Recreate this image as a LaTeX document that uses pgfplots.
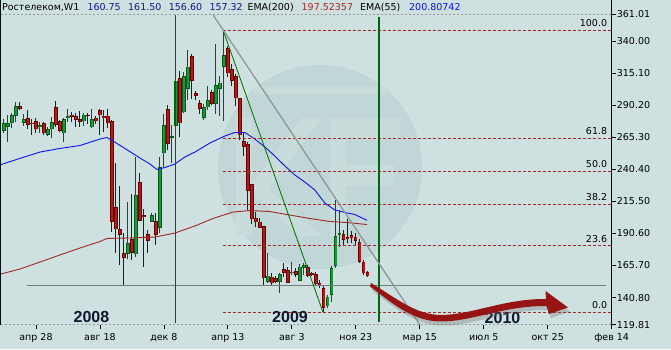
\documentclass[border=0pt]{standalone}
\usepackage{pgfplots}
\pgfplotsset{compat=1.18}
\usepackage{pgfplotstable}
\usepackage{fontspec}
\setmainfont{DejaVu Sans}
\newfontfamily\yearfont{Liberation Sans}
\definecolor{bg}{RGB}{206,224,223}
\definecolor{logoc}{RGB}{193,214,214}
\definecolor{logol}{RGB}{201,220,220}
\definecolor{gout}{RGB}{0,95,20}
\definecolor{gfill}{RGB}{34,145,64}
\definecolor{rout}{RGB}{105,0,0}
\definecolor{rfill}{RGB}{175,28,28}
\definecolor{fibc}{RGB}{165,40,40}
\definecolor{emared}{RGB}{160,40,40}
\definecolor{emablue}{RGB}{10,20,240}
\definecolor{trgreen}{RGB}{0,110,0}
\definecolor{trgray}{RGB}{140,152,152}
\definecolor{hgray}{RGB}{115,125,125}
\definecolor{vgreen}{RGB}{0,100,20}
\definecolor{navy}{RGB}{20,20,140}
\definecolor{arrowc}{RGB}{150,20,20}
\definecolor{yearc}{RGB}{16,24,48}

% weekly candles: x = weeks from 28 Apr 2008
\pgfplotstableread{
x o h l c
-8 270.4 279.2 268.8 276.1
-7 273.5 282.6 261.8 276.1
-6 276.1 283.9 272.7 282.3
-5 282.0 292.4 277.4 289.6
-3 276.6 283.1 274.3 279.2
1 273.5 277.4 268.8 274.8
3 267.0 273.5 266.3 271.7
4 271.5 281.0 264.9 277.1
7 268.4 280.0 261.4 279.2
8 280.0 287.0 277.4 281.8
12 277.7 284.4 274.0 282.8
14 273.0 287.0 272.7 279.2
23 174.6 214.8 170.5 182.9
25 174.4 249.7 172.5 220.4
29 199.7 206.2 199.5 204.7
31 195.1 249.6 190.7 242.0
32 252.8 283.0 242.2 274.8
34 264.9 274.8 245.3 265.6
35 274.4 313.6 270.9 309.2
37 284.7 316.0 284.1 312.9
38 302.8 333.1 294.2 320.1
42 280.2 291.1 278.7 288.6
43 288.6 305.3 286.5 294.2
45 291.1 337.7 283.4 305.9
46 302.8 312.9 282.0 307.7
47 320.1 348.3 277.7 328.9
58 153.1 175.2 151.9 157.8
61 153.1 160.1 144.1 159.1
64 159.6 168.6 158.3 160.9
66 153.9 166.6 153.6 164.8
67 163.8 167.4 158.3 166.1
73 133.9 142.8 132.7 141.6
74 142.8 165.3 137.6 163.5
75 165.3 216.6 163.8 188.6
76 189.1 208.8 180.3 190.7
}\greentab

\pgfplotstableread{
x o h l c
-4 289.6 292.4 286.5 287.5
-2 280.2 286.2 271.7 274.8
-1 276.6 279.5 267.0 275.4
0 277.7 280.2 268.8 271.5
2 276.4 276.9 266.8 268.4
5 288.8 293.4 273.5 274.8
6 277.9 278.9 269.1 270.4
9 282.8 284.9 277.1 281.3
10 281.8 283.9 273.0 278.7
11 279.5 285.5 273.5 277.1
13 282.8 284.1 275.4 281.8
15 280.5 281.6 275.8 277.7
16 286.5 287.0 267.3 282.3
17 282.0 286.5 269.1 280.0
18 282.0 287.0 272.2 276.1
19 277.9 278.5 191.9 199.7
20 210.9 245.1 175.2 193.8
21 194.0 227.4 165.9 189.6
22 175.2 191.2 150.6 171.8
24 186.0 221.2 170.0 175.6
26 230.5 237.8 200.0 200.5
27 204.7 209.8 164.8 203.6
28 189.9 193.3 175.2 185.0
30 200.3 206.7 181.9 189.6
33 287.2 290.3 255.4 260.4
36 311.3 316.5 265.3 276.1
39 328.4 330.0 295.0 309.2
40 299.4 301.4 294.2 297.6
41 291.7 294.2 283.4 287.5
44 300.4 302.0 290.1 291.1
48 334.6 336.4 311.9 315.0
49 318.1 322.2 305.3 309.2
50 312.9 314.4 289.6 295.4
51 295.5 295.8 262.8 266.7
52 262.2 269.1 250.7 258.0
53 259.8 261.8 208.8 223.9
54 228.8 229.0 197.9 201.6
55 202.4 207.5 195.8 199.2
56 199.7 202.4 194.9 195.1
57 196.4 196.6 150.6 155.8
59 157.0 159.6 150.6 151.9
60 155.8 157.5 152.1 153.1
62 162.7 167.4 157.0 160.1
63 162.2 164.8 151.9 152.3
65 161.4 163.5 157.0 158.3
68 164.3 166.1 156.8 157.9
69 160.1 161.0 157.2 158.3
70 159.1 160.9 150.0 151.1
71 152.2 154.2 148.6 150.1
72 148.2 149.8 129.2 132.7
77 190.2 193.3 180.8 185.5
78 187.6 201.6 182.9 186.0
79 189.4 192.7 182.9 186.8
80 188.1 190.7 181.6 185.0
81 184.2 186.0 167.9 168.6
82 168.6 170.0 158.3 159.6
83 160.75 161.50 156.60 157.32
}\redtab

\pgfplotsset{candle/.style={only marks, mark=*, mark size=0pt, mark options={draw=none,fill=none}, forget plot,
  error bars/.cd, y dir=plus, y explicit, error mark=none}}

\begin{document}
\begin{tikzpicture}[font=\fontsize{9.5}{11}\selectfont]
\fill[bg] (0,0) rectangle (671pt,349pt);
\useasboundingbox (0,0) rectangle (671pt,349pt);
% watermark logo
\begin{scope}[x=1pt,y=-1pt,shift={(0pt,349pt)}]
\fill[logoc] (320,167) circle[radius=102pt];
\fill[logol] (253,87) rectangle (388,95);
\fill[logol] (236,118) rectangle (252,236);
\fill[logol] (252,184) -- (302,118) -- (322,118) -- (262,198) -- cycle;
\fill[logol] (258,180) -- (322,236) -- (300,236) -- (252,194) -- cycle;
\fill[logol] (330,118) rectangle (346,236);
\fill[logol] (346,118) rectangle (400,140);
\fill[logol] (346,165) rectangle (394,186);
% header
\node[anchor=base west,inner sep=0pt] at (2,10.7) {Ростелеком,W1};
\node[anchor=base west,inner sep=0pt,text=navy] at (87.3,10.7) {160.75};
\node[anchor=base west,inner sep=0pt,text=navy] at (128,10.7) {161.50};
\node[anchor=base west,inner sep=0pt,text=navy] at (168.7,10.7) {156.60};
\node[anchor=base west,inner sep=0pt,text=navy] at (209.3,10.7) {157.32};
\node[anchor=base west,inner sep=0pt] at (247.3,10.7) {EMA(200)};
\node[anchor=base west,inner sep=0pt,text=fibc] at (301.5,10.7) {197.52357};
\node[anchor=base west,inner sep=0pt] at (360,10.7) {EMA(55)};
\node[anchor=base west,inner sep=0pt,text=emablue] at (409,10.7) {200.80742};
\end{scope}

\begin{axis}[
  at={(1pt,24.4pt)}, anchor=south west,
  scale only axis, width=610.7pt, height=310.6pt,
  xmin=-8.75, xmax=144, ymin=119.81, ymax=361.01,
  axis line style={draw=none},
  xtick={0,16,32,48,64,80,96,112,128,144},
  xticklabels={апр 28,авг 18,дек 8,апр 13,авг 3,ноя 23,мар 15,июл 5,окт 25,фев 14},
  ytick={119.81,140.80,165.70,190.60,215.50,240.40,265.30,290.20,315.10,340.00,361.01},
  xtick pos=left, ytick pos=right, yticklabel pos=right,
  tick align=outside, major tick length=4pt,
  tick style={black, line width=0.8pt},
  tick label style={font=\fontsize{9.5}{11}\selectfont},
  xticklabel style={anchor=north, inner sep=0pt, yshift=-4.5pt},
  yticklabel style={anchor=west, inner sep=0pt, xshift=1pt,
    /pgf/number format/.cd, fixed, fixed zerofill, precision=2, 1000 sep={}, assume math mode=true},
  scaled ticks=false,
]
% wicks
\addplot[candle, error bar style={line width=1pt, color=gout}]
  table[x=x, y=l, y error plus expr={\thisrow{h}-\thisrow{l}}] {\greentab};
\addplot[candle, error bar style={line width=1pt, color=rout}]
  table[x=x, y=l, y error plus expr={\thisrow{h}-\thisrow{l}}] {\redtab};
% bodies
\addplot[candle, error bar style={line width=3.3pt, color=gout}]
  table[x=x, y expr={min(\thisrow{o},\thisrow{c})}, y error plus expr={max(abs(\thisrow{c}-\thisrow{o}),1.0)}] {\greentab};
\addplot[candle, error bar style={line width=1.5pt, color=gfill}]
  table[x=x, y expr={min(\thisrow{o},\thisrow{c})+0.5}, y error plus expr={max(abs(\thisrow{c}-\thisrow{o})-1.0,0)}] {\greentab};
\addplot[candle, error bar style={line width=3.3pt, color=rout}]
  table[x=x, y expr={min(\thisrow{o},\thisrow{c})}, y error plus expr={max(abs(\thisrow{c}-\thisrow{o}),1.0)}] {\redtab};
\addplot[candle, error bar style={line width=1.5pt, color=rfill}]
  table[x=x, y expr={min(\thisrow{o},\thisrow{c})+0.5}, y error plus expr={max(abs(\thisrow{c}-\thisrow{o})-1.0,0)}] {\redtab};
% EMA(55)
\addplot[emablue, line width=0.9pt, mark=none] coordinates {
(-8.75,244.1) (-4,248.9) (1,253.8) (6,256.6) (11,258.9) (16,263.9) (17.75,265.1) (19.25,262.4)
(22.25,256.6) (26,249.2) (28.5,244.5) (30.25,240.3) (32.25,241.8) (34.75,244.5) (37.25,250.0)
(39.75,253.8) (43.5,260.8) (47.25,266.3) (49.75,269.0) (52.25,269.0) (54.75,263.9) (57.25,257.7)
(59.75,250.7) (62.25,243.0) (64.75,236.0) (67.25,230.5) (69.75,224.3) (72.25,214.2) (74.75,208.8)
(77.25,206.9) (79.75,205.3) (82.8,200.8)};
% EMA(200)
\addplot[emared, line width=0.9pt, mark=none] coordinates {
(-8.75,159.1) (-4,163.0) (1,168.4) (6,173.9) (11,179.3) (16,184.3) (17.75,186.7) (23.5,187.1)
(29.75,187.8) (34.75,190.9) (39.75,196.4) (44.25,202.2) (49.25,207.2) (53.5,208.4) (58.5,207.6)
(63.5,204.9) (68.5,202.2) (73.5,199.9) (78.5,198.9) (82.8,197.5)};
% Fibonacci levels
\addplot[fibc, line width=0.9pt, dash pattern=on 3pt off 2pt] coordinates {(46.7,348.4) (144,348.4)};
\addplot[fibc, line width=0.9pt, dash pattern=on 3pt off 2pt] coordinates {(46.7,264.6) (144,264.6)};
\addplot[fibc, line width=0.9pt, dash pattern=on 3pt off 2pt] coordinates {(46.7,238.8) (144,238.8)};
\addplot[fibc, line width=0.9pt, dash pattern=on 3pt off 2pt] coordinates {(46.7,212.9) (144,212.9)};
\addplot[fibc, line width=0.9pt, dash pattern=on 3pt off 2pt] coordinates {(46.7,180.9) (144,180.9)};
\addplot[fibc, line width=0.9pt, dash pattern=on 3pt off 2pt] coordinates {(46.7,129.2) (144,129.2)};
\node[anchor=south east, inner sep=0pt, yshift=3.5pt] at (axis cs:142.9,348.4) {100.0};
\node[anchor=south east, inner sep=0pt, yshift=3.5pt] at (axis cs:142.9,264.6) {61.8};
\node[anchor=south east, inner sep=0pt, yshift=3.5pt] at (axis cs:142.9,238.8) {50.0};
\node[anchor=south east, inner sep=0pt, yshift=3.5pt] at (axis cs:142.9,212.9) {38.2};
\node[anchor=south east, inner sep=0pt, yshift=3.5pt] at (axis cs:142.9,180.9) {23.6};
\node[anchor=south east, inner sep=0pt, yshift=3.5pt] at (axis cs:142.9,129.2) {0.0};
% horizontal support line
\addplot[hgray, line width=1.1pt] coordinates {(-2.25,150.1) (142.5,150.1)};
% vertical lines
\addplot[vgreen, line width=1.1pt] coordinates {(34.8,360.2) (34.8,121.2)};
\addplot[vgreen, line width=1.1pt] coordinates {(85.8,358.4) (85.8,122.0)};
% trend lines
\addplot[trgreen, line width=0.8pt] coordinates {(46.8,348.4) (71.8,129.3)};
\addplot[trgray, line width=1.3pt] coordinates {(44.3,360.2) (96,119.81)};
\end{axis}

\begin{scope}[x=1pt,y=-1pt,shift={(0pt,349pt)}]
% frame
\draw[black!40, line width=0.7pt, dash pattern=on 2pt off 2pt] (1,14) -- (611.7,14);
\draw[black!40, line width=0.7pt, dash pattern=on 2pt off 2pt] (1,324.6) -- (611.7,324.6);
\draw[black!85!teal, line width=1.3pt] (0.65,0) -- (0.65,324.6);
\draw[black, line width=0.9pt] (611.7,0) -- (611.7,324.6);
% year labels
\node[text=yearc, font=\yearfont\bfseries\fontsize{16}{18}\selectfont] at (91.5,317.3) {2008};
\node[text=yearc, font=\yearfont\bfseries\fontsize{16}{18}\selectfont] at (290,317.3) {2009};
\node[text=yearc, font=\yearfont\bfseries\fontsize{16}{18}\selectfont] at (502.5,318.3) {2010};
% forecast arrow
\def\arrowpath{(371,283) .. controls (396,298) and (416,315) .. (441,315) .. controls (471,315) and (505,298.5) .. (546,299) -- (545.5,291) -- (568,307.5) -- (549,314) -- (546.5,306) .. controls (505,305.5) and (472,321.5) .. (441,321.5) .. controls (412,321.5) and (391,302) .. (370,286.5) -- cycle}
\fill[black!60, opacity=0.3, shift={(2,4)}] \arrowpath;
\fill[arrowc] \arrowpath;
\end{scope}
\end{tikzpicture}
\end{document}
